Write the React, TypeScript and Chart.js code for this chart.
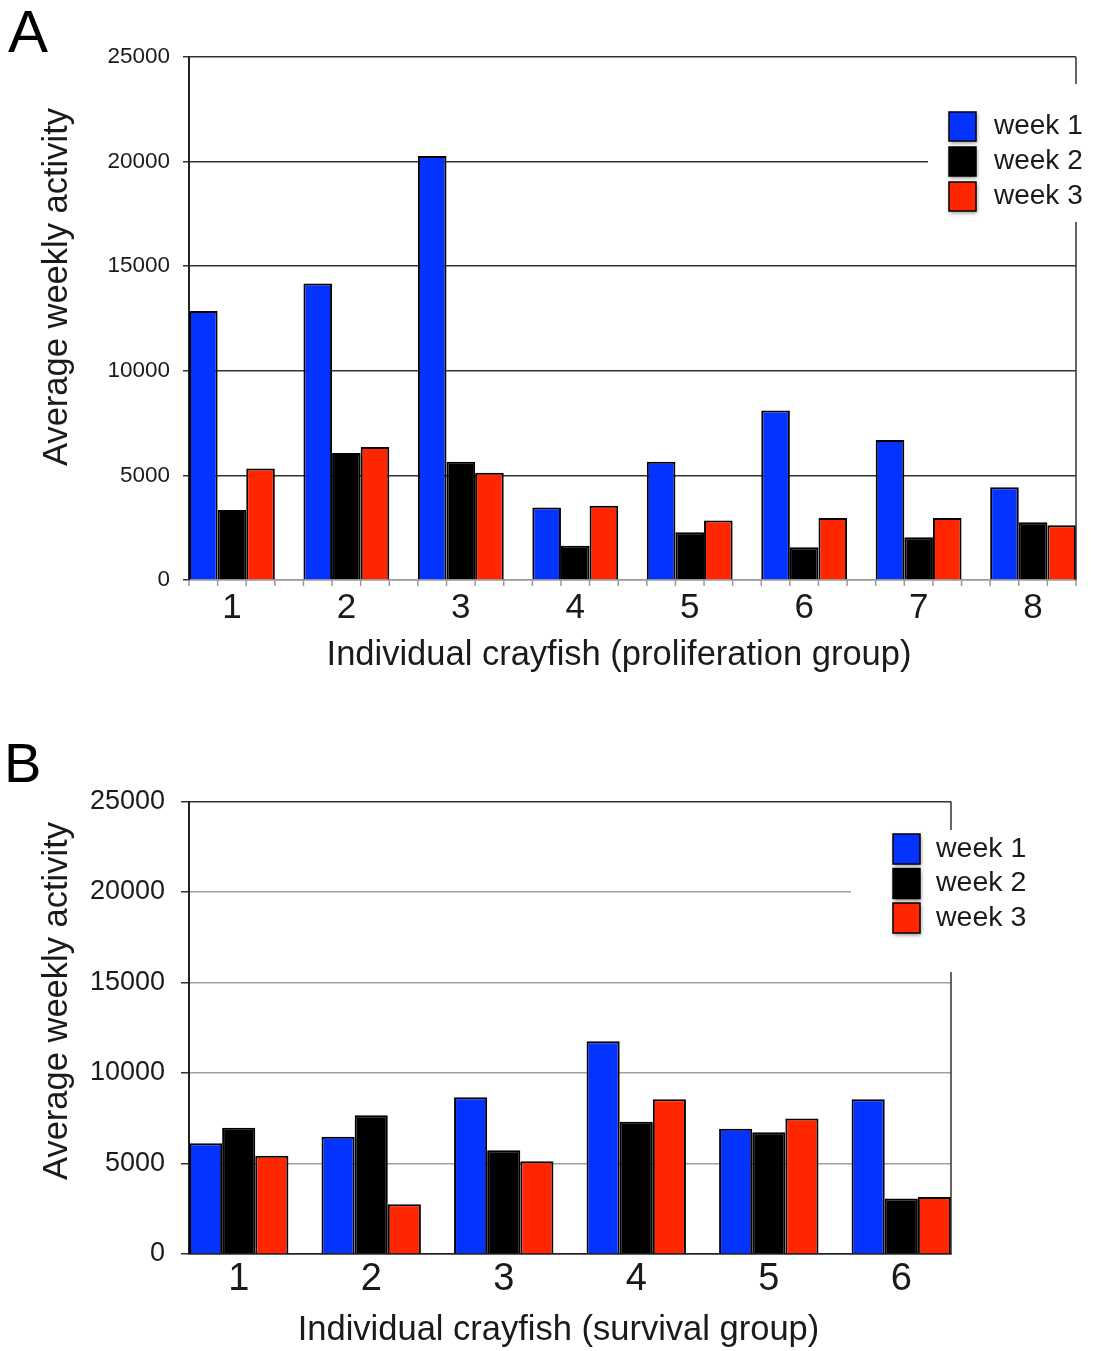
import React, { useEffect, useRef } from 'react';
import { Chart, registerables } from 'chart.js';

Chart.register(...registerables);

const FONT = '"Liberation Sans", Arial, Helvetica, sans-serif';
const TEXT = '#1a1a1a';

// ---- data ----
const seriesLabels = ['week 1', 'week 2', 'week 3'];
const seriesColors = ['#0433ff', '#000000', '#ff2600'];
const yTickValues = [0, 5000, 10000, 15000, 20000, 25000];

const categoriesA = ['1', '2', '3', '4', '5', '6', '7', '8'];
const week1A = [12860, 14170, 20270, 3470, 5650, 8100, 6690, 4430];
const week2A = [3350, 6070, 5650, 1640, 2280, 1560, 2040, 2760];
const week3A = [5330, 6360, 5130, 3550, 2840, 2960, 2960, 2620];

const categoriesB = ['1', '2', '3', '4', '5', '6'];
const week1B = [6120, 6480, 8660, 11750, 6920, 8550];
const week2B = [6980, 7660, 5730, 7310, 6720, 3060];
const week3B = [5430, 2750, 5120, 8550, 7480, 3150];

const titleY = 'Average weekly activity';
const titleXA = 'Individual crayfish (proliferation group)';
const titleXB = 'Individual crayfish (survival group)';

// ---- decoration plugin (frame, legend, titles, panel letter) ----
const decorPlugin = {
  id: 'decor',
  afterDraw(chart: any, _args: any, o: any) {
    const { ctx, chartArea: ca, scales } = chart;
    const n = o.count;
    ctx.save();
    if (o.boundaryTicks) {
      ctx.strokeStyle = o.boundaryTickColor;
      ctx.lineWidth = 1.5;
      ctx.beginPath();
      for (let k = 0; k < n * 4; k++) {
        const px = scales.x.getPixelForValue(-0.375 + 0.25 * k);
        ctx.moveTo(px, ca.bottom);
        ctx.lineTo(px, ca.bottom + o.boundaryTickLen);
      }
      ctx.stroke();
    }
    ctx.strokeStyle = o.frameColor;
    ctx.lineWidth = 1.5;
    ctx.beginPath();
    ctx.moveTo(ca.right, ca.top);
    ctx.lineTo(ca.right, ca.bottom);
    ctx.stroke();

    const L = o.legend;
    ctx.fillStyle = '#ffffff';
    ctx.fillRect(L.bgX, L.bgY, L.bgW, L.bgH);
    chart.data.datasets.forEach((ds: any, i: number) => {
      const y = L.boxY + i * L.step;
      ctx.save();
      ctx.shadowColor = 'rgba(0,0,0,0.45)';
      ctx.shadowBlur = 4;
      ctx.shadowOffsetX = 1;
      ctx.shadowOffsetY = 2;
      ctx.fillStyle = ds.backgroundColor;
      ctx.fillRect(L.boxX, y, L.boxW, L.boxH);
      ctx.restore();
      ctx.lineWidth = 1.5;
      ctx.strokeStyle = '#000';
      ctx.strokeRect(L.boxX, y, L.boxW, L.boxH);
      ctx.fillStyle = TEXT;
      ctx.font = `${L.fontSize}px ${FONT}`;
      ctx.textAlign = 'left';
      ctx.textBaseline = 'middle';
      ctx.fillText(ds.label, L.textX, y + L.boxH / 2);
    });

    ctx.fillStyle = TEXT;
    ctx.font = `${o.titleSize}px ${FONT}`;
    ctx.textAlign = 'center';
    ctx.textBaseline = 'middle';
    ctx.fillText(o.xTitle, o.xTitleX, o.xTitleY);
    ctx.save();
    ctx.translate(o.yTitleX, o.yTitleY);
    ctx.rotate(-Math.PI / 2);
    ctx.fillText(o.yTitle, 0, 0);
    ctx.restore();

    ctx.font = `${o.letterSize}px ${FONT}`;
    ctx.textAlign = 'left';
    ctx.textBaseline = 'alphabetic';
    ctx.fillStyle = '#000';
    ctx.fillText(o.letter, o.letterX, o.letterBaseline);
    ctx.restore();
  },
};

type Spec = any;

const specA: Spec = {
  categories: categoriesA,
  series: [week1A, week2A, week3A],
  height: 680,
  padTop: 57, padRight: 19, yAxisWidth: 189, xAxisHeight: 100,
  yTickFont: 22.5, yTickLen: 6, yTickPad: 13,
  xTickFont: 35, xTickPad: 7,
  gridColor: (v: number) => (v === 0 ? '#9a9a9a' : '#333333'),
  xBorderColor: '#9a9a9a',
  decor: {
    count: categoriesA.length,
    boundaryTicks: true, boundaryTickColor: '#9a9a9a', boundaryTickLen: 6,
    frameColor: '#333333',
    xTitle: titleXA, xTitleX: 619, xTitleY: 655,
    yTitle: titleY, yTitleX: 57, yTitleY: 287, titleSize: 34.5,
    letter: 'A', letterX: 8, letterBaseline: 52, letterSize: 60,
    legend: { bgX: 928, bgY: 84, bgW: 167, bgH: 138, boxX: 949, boxY: 112, boxW: 27, boxH: 29, step: 35, textX: 994, fontSize: 28 },
  },
};

const specB: Spec = {
  categories: categoriesB,
  series: [week1B, week2B, week3B],
  height: 671,
  padTop: 121.5, padRight: 144, yAxisWidth: 189, xAxisHeight: 97,
  yTickFont: 27, yTickLen: 8, yTickPad: 16,
  xTickFont: 38, xTickPad: 3,
  gridColor: (v: number) => (v === 0 || v === 25000 ? '#333333' : '#a0a0a0'),
  xBorderColor: '#222222',
  decor: {
    count: categoriesB.length,
    boundaryTicks: false, boundaryTickColor: '#9a9a9a', boundaryTickLen: 0,
    frameColor: '#333333',
    xTitle: titleXB, xTitleX: 558.5, xTitleY: 650,
    yTitle: titleY, yTitleX: 57, yTitleY: 321, titleSize: 34.5,
    letter: 'B', letterX: 4, letterBaseline: 102, letterSize: 56,
    legend: { bgX: 851, bgY: 150, bgW: 244, bgH: 142, boxX: 893, boxY: 154, boxW: 27, boxH: 30, step: 34.5, textX: 936, fontSize: 28.5 },
  },
};

function buildConfig(s: Spec): any {
  const n = s.categories.length;
  return {
    type: 'bar',
    data: {
      datasets: s.series.map((vals: number[], i: number) => ({
        label: seriesLabels[i],
        data: vals.map((v, j) => ({ x: j, y: v })),
        backgroundColor: seriesColors[i],
        borderColor: '#000000',
        borderWidth: 2,
        categoryPercentage: 0.75,
        barPercentage: 1.0,
      })),
    },
    options: {
      animation: false,
      responsive: false,
      devicePixelRatio: 1,
      layout: { padding: { left: 0, top: s.padTop, right: s.padRight, bottom: 0 } },
      plugins: {
        legend: { display: false },
        tooltip: { enabled: false },
        decor: s.decor,
      },
      scales: {
        x: {
          type: 'linear',
          offset: false,
          min: -0.375,
          max: n - 1 + 0.375,
          afterBuildTicks: (scale: any) => {
            scale.ticks = s.categories.map((_: string, i: number) => ({ value: i }));
          },
          afterFit: (scale: any) => { scale.height = s.xAxisHeight; },
          ticks: {
            autoSkip: false,
            maxRotation: 0,
            padding: s.xTickPad,
            color: TEXT,
            font: { family: FONT, size: s.xTickFont },
            callback: (v: number) => (Number.isInteger(v) ? s.categories[v] : ''),
          },
          grid: { display: true, offset: false, drawOnChartArea: false, drawTicks: false, color: 'rgba(0,0,0,0)' },
          border: { display: true, color: s.xBorderColor, width: 1.5 },
        },
        y: {
          min: 0,
          max: 25000,
          afterBuildTicks: (scale: any) => {
            scale.ticks = yTickValues.map((v) => ({ value: v }));
          },
          afterFit: (scale: any) => { scale.width = s.yAxisWidth; },
          ticks: {
            padding: s.yTickPad,
            color: TEXT,
            font: { family: FONT, size: s.yTickFont },
            callback: (v: number) => String(v),
          },
          grid: {
            color: (ctx: any) => s.gridColor(ctx.tick ? ctx.tick.value : -1),
            lineWidth: 1.5,
            drawTicks: true,
            tickLength: s.yTickLen,
            tickColor: '#333333',
            tickWidth: 1.5,
          },
          border: { display: true, color: '#222222', width: 2 },
        },
      },
    },
    plugins: [decorPlugin],
  };
}

function Panel({ spec, top }: { spec: Spec; top: number }) {
  const ref = useRef<HTMLCanvasElement>(null);
  useEffect(() => {
    const chart = new Chart(ref.current as HTMLCanvasElement, buildConfig(spec));
    return () => chart.destroy();
  }, [spec]);
  return (
    <canvas
      ref={ref}
      width={1095}
      height={spec.height}
      style={{ position: 'absolute', left: 0, top, width: 1095, height: spec.height, display: 'block' }}
    />
  );
}

export default function App() {
  return (
    <div style={{ position: 'absolute', left: 0, top: 0, width: 1095, height: 1351, background: '#ffffff', overflow: 'hidden' }}>
      <Panel spec={specA} top={0} />
      <Panel spec={specB} top={680} />
    </div>
  );
}
